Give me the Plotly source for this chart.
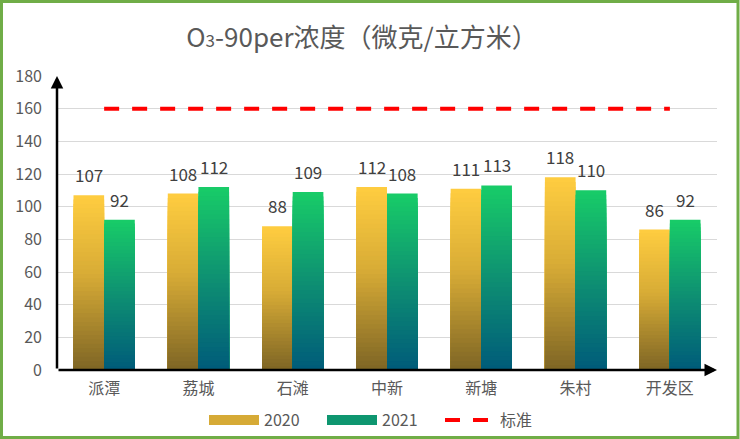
import plotly.graph_objects as go

categories = ["派潭", "荔城", "石滩", "中新", "新塘", "朱村", "开发区"]
values_2020 = [107, 108, 88, 112, 111, 118, 86]
values_2021 = [92, 112, 109, 108, 113, 110, 92]
standard = [160, 160, 160, 160, 160, 160, 160]
y_ticks = [0, 20, 40, 60, 80, 100, 120, 140, 160, 180]

# gradient stops (top -> bottom)
grad_2020 = [(0.0, (255, 205, 64)), (0.45, (216, 172, 54)), (1.0, (126, 101, 37))]
grad_2021 = [(0.0, (24, 205, 104)), (0.5, (14, 144, 114)), (1.0, (0, 91, 122))]

W, H = 740, 439
ML, MR, MT, MB = 57, 23, 76, 69
PW, PH = W - ML - MR, H - MT - MB
N = 40
BARGAP = 0.35


def interp(stops, f):
    for (f0, c0), (f1, c1) in zip(stops[:-1], stops[1:]):
        if f <= f1:
            t = (f - f0) / (f1 - f0) if f1 > f0 else 0
            c = [round(a + (b - a) * t) for a, b in zip(c0, c1)]
            return "rgb(%d,%d,%d)" % tuple(c)
    return "rgb(%d,%d,%d)" % stops[-1][1]


fig = go.Figure()

bar_px = PW / len(categories) * (1 - BARGAP) / 2
font_family = "Noto Sans CJK SC, Microsoft YaHei, sans-serif"

for si, (name, vals, stops) in enumerate([("2020", values_2020, grad_2020), ("2021", values_2021, grad_2021)]):
    for k in range(N):
        frac = (N - k) / N
        fig.add_trace(go.Bar(
            x=categories,
            y=[v * frac for v in vals],
            offsetgroup=name,
            marker=dict(color=interp(stops, (k + 0.5) / N), line=dict(width=0)),
            showlegend=False,
            hoverinfo="skip",
        ))
    shift = (si - 0.5) * bar_px
    for c, v in zip(categories, vals):
        fig.add_annotation(x=c, y=v, text=str(v), showarrow=False, xshift=shift,
                           yanchor="bottom", yshift=6,
                           font=dict(size=17, color="#404040", family=font_family))

# standard line
fig.add_trace(go.Scatter(
    x=categories, y=standard, mode="lines",
    line=dict(color="#FF0000", width=4, dash="15px,13px"),
    name="标准", showlegend=False, hoverinfo="skip",
))

# legend entries
fig.add_trace(go.Scatter(x=[None], y=[None], mode="lines",
                         line=dict(color="rgb(214,170,54)", width=10), name="2020"))
fig.add_trace(go.Scatter(x=[None], y=[None], mode="lines",
                         line=dict(color="rgb(14,150,112)", width=10), name="2021"))
fig.add_trace(go.Scatter(x=[None], y=[None], mode="lines",
                         line=dict(color="#FF0000", width=4, dash="15px,13px"), name="标准"))

fig.update_layout(
    width=W, height=H,
    margin=dict(l=ML, r=MR, t=MT, b=MB, autoexpand=False),
    paper_bgcolor="white", plot_bgcolor="white",
    font=dict(family=font_family, color="#595959", size=16),
    barmode="group", bargap=BARGAP, bargroupgap=0,
    title=dict(
        text="O<span style='font-size:17px'>3</span>-90per浓度（微克/立方米）",
        x=362 / W, xanchor="center", y=1 - 38 / H, yanchor="middle",
        font=dict(size=26, color="#595959", family=font_family),
    ),
    legend=dict(
        orientation="h", xref="container", yref="container",
        x=204 / W, xanchor="left", y=1 - 420 / H, yanchor="middle",
        font=dict(size=16, color="#595959"), traceorder="normal",
        bgcolor="rgba(0,0,0,0)", itemwidth=50,
        entrywidth=53, entrywidthmode="pixels",
    ),
    showlegend=True,
)

fig.update_xaxes(showline=False, ticks="", showgrid=False, zeroline=False,
                 tickfont=dict(size=16, color="#595959"), fixedrange=True,
                 ticklabelstandoff=7, automargin=False)
fig.update_yaxes(range=[0, 180], tickvals=y_ticks, showgrid=True, gridcolor="#D9D9D9",
                 gridwidth=1, zeroline=False, showline=False, ticks="",
                 tickfont=dict(size=16, color="#595959"), ticklabelstandoff=14,
                 automargin=False, fixedrange=True)

# axis arrows
fig.add_annotation(x=0, y=1, ax=0, ay=0, xref="x domain", yref="y domain",
                   axref="x domain", ayref="y domain",
                   text="", showarrow=True, arrowhead=2, arrowsize=1, arrowwidth=2.5, arrowcolor="black")
fig.add_annotation(x=1, y=0, ax=0, ay=0, xref="x domain", yref="y domain",
                   axref="x domain", ayref="y domain",
                   text="", showarrow=True, arrowhead=2, arrowsize=1, arrowwidth=2.5, arrowcolor="black")

# outer green border
fig.add_shape(type="rect", xref="paper", yref="paper",
              x0=(1.5 - ML) / PW, x1=(738 - ML) / PW,
              y0=(370 - 437.5) / PH, y1=(370 - 1.5) / PH,
              line=dict(color="#70AD47", width=3), layer="above")

fig.write_html("out.html",
               config={"displayModeBar": False},
               post_script="document.body.style.margin='0';document.documentElement.style.overflow='hidden';")
